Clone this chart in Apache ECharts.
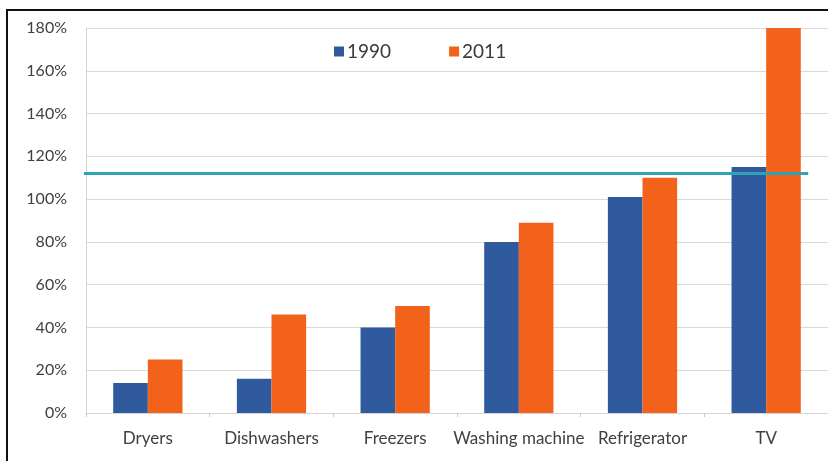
<!DOCTYPE html>
<html>
<head>
<meta charset="utf-8">
<script src="https://cdn.jsdelivr.net/npm/echarts@6/dist/echarts.min.js"></script>
<style>
  html, body { margin: 0; padding: 0; background: #fff; }
  #chart { width: 828px; height: 461px; }
</style>
</head>
<body>
<div id="chart"></div>
<script>
// Appliance ownership per 100 households, 1990 vs 2011
const categories = ['Dryers', 'Dishwashers', 'Freezers', 'Washing machine', 'Refrigerator', 'TV'];
const values1990 = [14, 16, 40, 80, 101, 115];
const values2011 = [25, 46, 50, 89, 110, 180];
const referenceLevel = 112;
// reference line extent in category units (0 = left edge, 6 = right edge)
const referenceSpan = [-0.03, 5.84];
const yTicks = [0, 20, 40, 60, 80, 100, 120, 140, 160, 180];

const chart = echarts.init(document.getElementById('chart'));
const font = 'Lato, "Open Sans", sans-serif';

chart.setOption({
  animation: false,
  backgroundColor: '#fff',
  graphic: [{
    type: 'polyline',
    shape: { points: [[7, 700], [7, 10], [1000, 10]] },
    style: { fill: 'none', stroke: '#111', lineWidth: 2 },
    silent: true
  }],
  legend: {
    data: ['1990', '2011'],
    left: 329,
    top: 37,
    itemWidth: 10,
    itemHeight: 10,
    itemGap: 58,
    icon: 'rect',
    textStyle: { fontFamily: font, fontSize: 19, color: '#3a3a3a', padding: [0, 0, 0, -2] }
  },
  grid: { left: 86, top: 28, width: 746, bottom: 48, containLabel: false },
  xAxis: [{
    type: 'category',
    data: categories,
    axisLine: { show: true, lineStyle: { color: '#d4d4d4', width: 1 } },
    axisTick: { show: true, length: 4, lineStyle: { color: '#c8c8c8' } },
    axisLabel: { fontFamily: font, fontSize: 17, color: '#404040', margin: 17, interval: 0 }
  }, {
    type: 'value',
    min: 0,
    max: 6,
    show: false
  }],
  yAxis: {
    type: 'value',
    min: yTicks[0],
    max: yTicks[yTicks.length - 1],
    interval: 20,
    axisLine: { show: true, lineStyle: { color: '#d4d4d4' } },
    axisTick: { show: false },
    splitLine: { lineStyle: { color: '#d9d9d9', width: 1 } },
    axisLabel: { fontFamily: font, fontSize: 16, color: '#404040', margin: 19, formatter: '{value}%' }
  },
  series: [{
    name: '1990',
    type: 'bar',
    data: values1990,
    barGap: '0%',
    barCategoryGap: '44%',
    itemStyle: { color: '#2f5a9e' }
  }, {
    name: '2011',
    type: 'bar',
    data: values2011,
    barGap: '0%',
    barCategoryGap: '44%',
    itemStyle: { color: '#f2621a' }
  }, {
    name: 'level',
    type: 'line',
    xAxisIndex: 1,
    data: [[referenceSpan[0], referenceLevel], [referenceSpan[1], referenceLevel]],
    showSymbol: false,
    clip: false,
    lineStyle: { color: '#2ea3b4', width: 3 },
    z: 5
  }]
});
</script>
</body>
</html>
